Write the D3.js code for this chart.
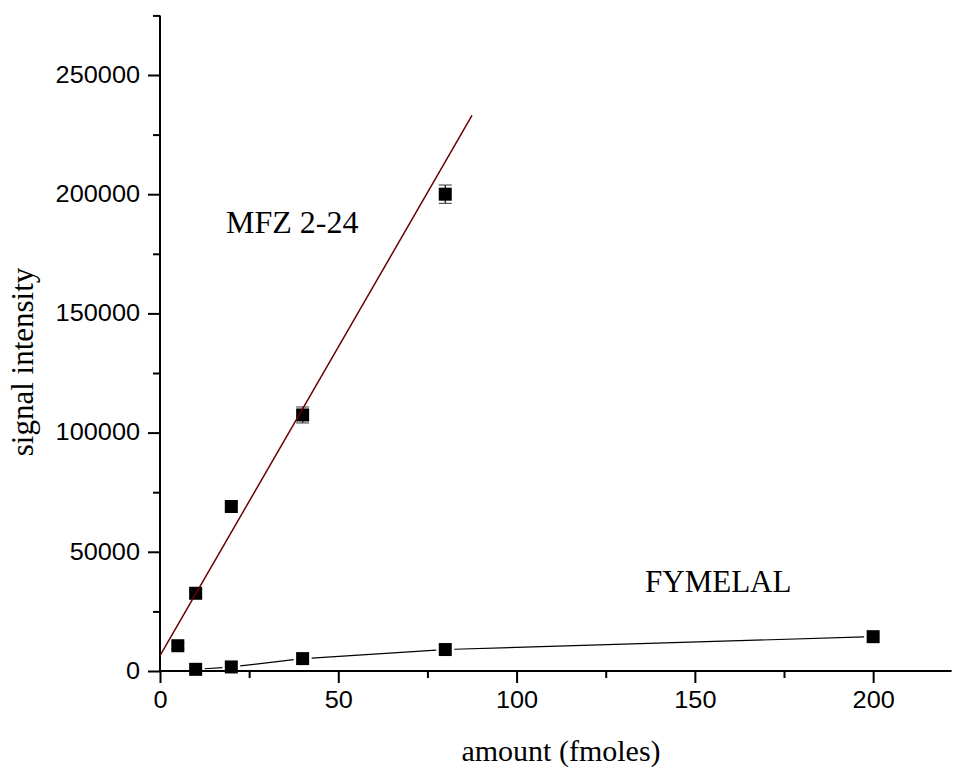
<!DOCTYPE html>
<html>
<head>
<meta charset="utf-8">
<script src="https://cdn.jsdelivr.net/npm/d3@7"></script>
<style>
  html, body { margin: 0; padding: 0; background: #fff; }
  svg { display: block; }
</style>
</head>
<body>
<svg id="chart" width="953" height="767"></svg>
<script>
// Calibration data: amount (fmoles) vs. signal intensity
const mfzAmount = [5, 10, 20, 40, 80];
const mfzSignal = [10600, 32600, 69000, 107400, 200000];
const mfzError  = [1200, 1500, 1500, 3350, 3850];

const fymAmount = [10, 20, 40, 80, 200];
const fymSignal = [700, 1700, 5200, 9000, 14400];

// Linear fit for MFZ 2-24 (intercept, slope) and its drawn range
const mfzFit = { intercept: 6400, slope: 2590 };
const mfzFitRange = [0, 87.5];

const xTicks = [0, 50, 100, 150, 200];
const xMinorTicks = [25, 75, 125, 175];
const yTicks = [0, 50000, 100000, 150000, 200000, 250000];
const yMinorTicks = [25000, 75000, 125000, 175000, 225000, 275000];

const svg = d3.select("#chart");

const x = d3.scaleLinear().domain([0, 222]).range([160, 951.6]);
const y = d3.scaleLinear().domain([0, 275000]).range([671, 15.4]);

const serif = "'Liberation Serif', 'Times New Roman', serif";
const sans = "'Liberation Sans', Arial, sans-serif";
const tickFont = 23;
const tickStretch = 1.1; // tick numerals are set slightly wide

// Axes: minor ticks first (no labels), then major ticks with labels
const xMinor = d3.axisBottom(x).tickValues(xMinorTicks).tickSize(7).tickFormat("");
const xMajor = d3.axisBottom(x).tickValues(xTicks).tickSize(12).tickPadding(9).tickFormat(d3.format("d"));
const yMinor = d3.axisLeft(y).tickValues(yMinorTicks).tickSize(7).tickFormat("");
const yMajor = d3.axisLeft(y).tickValues(yTicks).tickSize(12).tickPadding(8).tickFormat(d3.format("d"));

function styleAxis(g) {
  g.selectAll(".domain").attr("stroke", "#000").attr("stroke-width", 2);
  g.selectAll(".tick line").attr("stroke", "#000").attr("stroke-width", 2);
  g.selectAll(".tick text")
    .attr("fill", "#000")
    .style("font-family", sans).style("font-size", tickFont + "px")
    .each(function() {
      const t = d3.select(this);
      const n = t.text().length;
      if (n) t.attr("textLength", n * 0.556 * tickFont * tickStretch).attr("lengthAdjust", "spacingAndGlyphs");
    });
}

svg.append("g").attr("transform", `translate(0,${y(0)})`).call(xMinor).call(styleAxis)
  .select(".domain").attr("d", `M${x.range()[0]},0H${x.range()[1]}`);
svg.append("g").attr("transform", `translate(0,${y(0)})`).call(xMajor).call(styleAxis)
  .select(".domain").remove();
svg.append("g").attr("transform", `translate(${x(0)},0)`).call(yMinor).call(styleAxis)
  .select(".domain").attr("d", `M0,${y.range()[0]}V${y.range()[1]}`);
svg.append("g").attr("transform", `translate(${x(0)},0)`).call(yMajor).call(styleAxis)
  .select(".domain").remove();

// Axis titles
svg.append("text")
  .attr("x", 561).attr("y", 761)
  .attr("text-anchor", "middle")
  .style("font-family", serif).style("font-size", "30px")
  .text("amount (fmoles)");

svg.append("text")
  .attr("transform", `translate(33,362) rotate(-90)`)
  .attr("text-anchor", "middle")
  .style("font-family", serif).style("font-size", "31px")
  .text("signal intensity");

// Series labels
svg.append("text")
  .attr("x", 226).attr("y", 233)
  .style("font-family", serif).style("font-size", "32px")
  .text("MFZ 2-24");

svg.append("text")
  .attr("x", 645).attr("y", 592)
  .style("font-family", serif).style("font-size", "31px")
  .text("FYMELAL");

const half = 6.5;

// FYMELAL connecting line: segments stop short of each marker
const fymPts = fymAmount.map((a, i) => [x(a), y(fymSignal[i])]);
const gap = half + 2.5;
for (let i = 0; i < fymPts.length - 1; i++) {
  const [x0, y0] = fymPts[i], [x1, y1] = fymPts[i + 1];
  const len = Math.hypot(x1 - x0, y1 - y0);
  const ux = (x1 - x0) / len, uy = (y1 - y0) / len;
  svg.append("line")
    .attr("x1", x0 + ux * gap).attr("y1", y0 + uy * gap)
    .attr("x2", x1 - ux * gap).attr("y2", y1 - uy * gap)
    .attr("stroke", "#000").attr("stroke-width", 1.2);
}

// FYMELAL markers
svg.append("g").selectAll("rect")
  .data(fymAmount.map((a, i) => ({ a, s: fymSignal[i] })))
  .join("rect")
  .attr("x", d => x(d.a) - half).attr("y", d => y(d.s) - half)
  .attr("width", half * 2).attr("height", half * 2)
  .attr("fill", "#000");

// MFZ 2-24 error bars
const mfzData = mfzAmount.map((a, i) => ({ a, s: mfzSignal[i], e: mfzError[i] }));
const eb = svg.append("g").attr("stroke", "#000").attr("stroke-width", 1.2);
mfzData.forEach(d => {
  const cx = x(d.a);
  eb.append("line").attr("x1", cx).attr("x2", cx).attr("y1", y(d.s + d.e)).attr("y2", y(d.s - d.e));
  eb.append("line").attr("x1", cx - half).attr("x2", cx + half).attr("y1", y(d.s + d.e)).attr("y2", y(d.s + d.e)).attr("stroke", "#555");
  eb.append("line").attr("x1", cx - half).attr("x2", cx + half).attr("y1", y(d.s - d.e)).attr("y2", y(d.s - d.e)).attr("stroke", "#555");
});

// MFZ 2-24 markers
svg.append("g").selectAll("rect")
  .data(mfzData)
  .join("rect")
  .attr("x", d => x(d.a) - half).attr("y", d => y(d.s) - half)
  .attr("width", half * 2).attr("height", half * 2)
  .attr("fill", "#000");

// MFZ 2-24 linear fit, drawn over the markers
const fitLine = d3.line().x(d => x(d)).y(d => y(mfzFit.intercept + mfzFit.slope * d));
svg.append("path")
  .attr("d", fitLine(mfzFitRange))
  .attr("fill", "none")
  .attr("stroke", "#6b0000")
  .attr("stroke-width", 1.5);
</script>
</body>
</html>
